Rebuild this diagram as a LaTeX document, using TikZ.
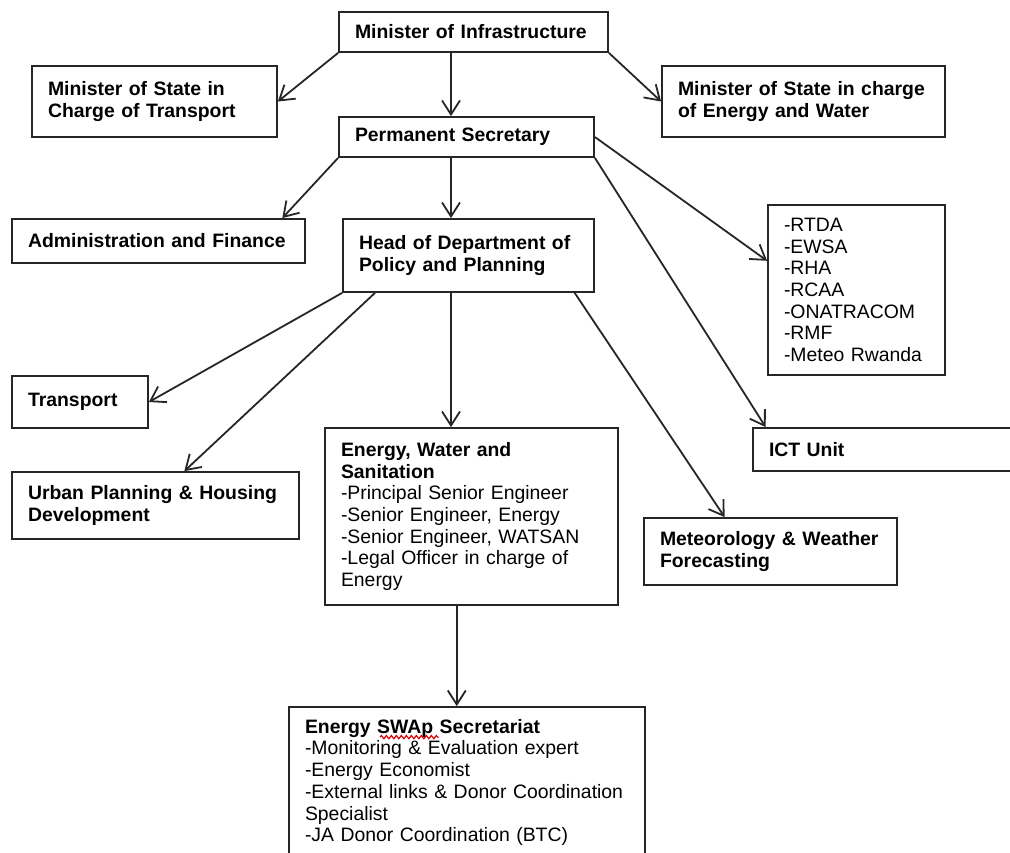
\documentclass[tikz,border=0pt]{standalone}
\usepackage{fontspec}
\setmainfont{Liberation Sans}
\usetikzlibrary{arrows.meta,calc,decorations.pathmorphing}

\begin{document}
\begin{tikzpicture}[x=0.5pt, y=-0.5pt, every node/.style={font=\fontsize{9.7}{10.85}\selectfont},
			b/.style 2 args={draw=black!85, line width=0.9pt, align=left, inner xsep=8pt, inner ysep=2pt, text width=#1, minimum height=#2},
			a/.style={-{Straight Barb[length=7pt,width=9pt]}, line width=0.9pt, black!85}]
			\useasboundingbox (0,0) rectangle (1010,852);
			\node[b={118.5pt}{20pt}] (mi) at (473.5,32) {\bfseries Minister of Infrastructure};
			\node[b={106.5pt}{35.5pt}] (mst) at (154.5,101.5) {\bfseries Minister of State in\\Charge of Transport};
			\node[b={125.5pt}{35.5pt}] (msew) at (803.5,101.5) {\bfseries Minister of State in charge\\of Energy and Water};
			\node[b={111.5pt}{20pt}] (ps) at (466.5,137) {\bfseries Permanent Secretary};
			\node[b={130.5pt}{22pt}] (adm) at (158.5,241) {\bfseries Administration and Finance};
			\node[b={109.5pt}{36.5pt}] (hd) at (468.5,255.5) {\bfseries Head of Department of\\Policy and Planning};
			\node[b={72.5pt}{85pt}] (ag) at (856.5,290) {-RTDA\\-EWSA\\-RHA\\-RCAA\\-ONATRACOM\\-RMF\\-Meteo Rwanda};
			\node[b={52pt}{26pt}] (tr) at (80,402) {\bfseries Transport};
			\node[b={119pt}{21.5pt}] (ict) at (888,449.5) {\bfseries ICT Unit};
			\node[b={127.5pt}{33.5pt}] (urb) at (155.5,505.5) {\bfseries Urban Planning \& Housing\\Development};
			\node[b={130.5pt}{88.5pt}] (ews) at (471.5,516.5) {{\bfseries Energy, Water and\\Sanitation}\\-Principal Senior Engineer\\-Senior Engineer, Energy\\-Senior Engineer, WATSAN\\-Legal Officer in charge of\\Energy};
			\node[b={110.5pt}{33.5pt}] (met) at (770.5,551.5) {\bfseries Meteorology \& Weather\\Forecasting};
			\node[b={162pt}{75.5pt}] (swap) at (467,782.5) {{\bfseries Energy SWAp Secretariat}\\-Monitoring \& Evaluation expert\\-Energy Economist\\-External links \& Donor Coordination\\Specialist\\-JA Donor Coordination (BTC)};
			\draw[red!85!black, line width=0.6pt, decorate, decoration={zigzag, segment length=2.5pt, amplitude=0.8pt}] ([shift={(92,31)}]swap.north west) -- ([shift={(151,31)}]swap.north west);
			\coordinate (spine) at (451,0);
			\draw[a] (mi.south west) -- (mst.east);
			\draw[a] (mi.south east) -- (msew.west);
			\draw[a] (mi.south -| spine) -- (ps.north -| spine);
			\draw[a] (ps.south west) -- ($(adm.north west)!0.92!(adm.north east)$);
			\draw[a] (ps.south -| spine) -- (hd.north -| spine);
			\draw[a] (ps.east) -- ($(ag.north west)!0.33!(ag.south west)$);
			\draw[a] (ps.south east) -- ($(ict.north west)!0.05!(ict.north east)$);
			\draw[a] (hd.south west) -- (tr.east);
			\draw[a] ($(hd.south west)!0.13!(hd.south east)$) -- ($(urb.north west)!0.6!(urb.north east)$);
			\draw[a] (hd.south -| spine) -- (ews.north -| spine);
			\draw[a] ($(hd.south west)!0.92!(hd.south east)$) -- ($(met.north west)!0.32!(met.north east)$);
			\draw[a] ($(ews.south west)!0.45!(ews.south east)$) coordinate (drop) -- (drop |- swap.north);
		\end{tikzpicture}
\end{document}
